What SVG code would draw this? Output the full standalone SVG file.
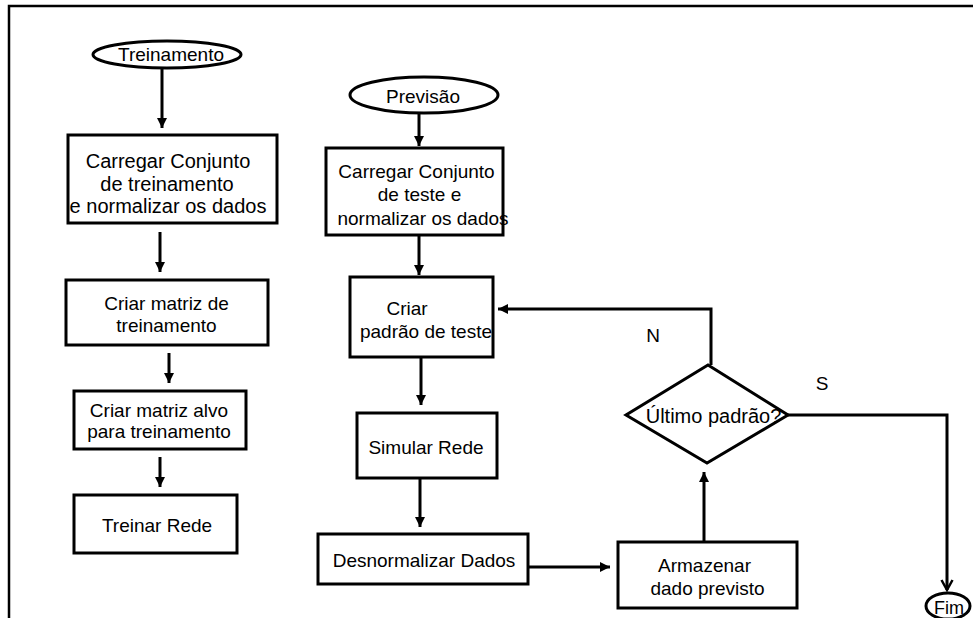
<svg xmlns="http://www.w3.org/2000/svg" width="973" height="618" viewBox="0 0 973 618">
<style>
.shape{fill:#fff;stroke:#000;stroke-width:3}
.conn{fill:none;stroke:#000;stroke-width:3}
.frame{fill:none;stroke:#000;stroke-width:2.5}
text{font-family:"Liberation Sans",Arial,sans-serif;font-size:19px;fill:#000;text-anchor:middle}
.big{font-size:20px}
</style>
<defs>
<marker id="ah" markerUnits="userSpaceOnUse" markerWidth="11" markerHeight="11" refX="10" refY="5" orient="auto">
<path d="M0,0 L10,5 L0,10 Z" fill="#000"/>
</marker>
<marker id="av" markerUnits="userSpaceOnUse" markerWidth="14" markerHeight="14" refX="11" refY="6.5" orient="auto">
<path d="M1,1 L11,6.5 L1,12" fill="none" stroke="#000" stroke-width="2.5"/>
</marker>
</defs>
<rect width="973" height="618" fill="#fff"/>
<path class="frame" d="M9,618 V6 H973"/>

<g id="connectors">
<line class="conn" x1="162" y1="68" x2="162" y2="128" marker-end="url(#ah)"/>
<line class="conn" x1="160" y1="232" x2="160" y2="272" marker-end="url(#ah)"/>
<line class="conn" x1="169" y1="353" x2="169" y2="383" marker-end="url(#ah)"/>
<line class="conn" x1="160" y1="457" x2="160" y2="487" marker-end="url(#ah)"/>
<line class="conn" x1="419" y1="113" x2="419" y2="146" marker-end="url(#ah)"/>
<line class="conn" x1="419" y1="235" x2="419" y2="275" marker-end="url(#ah)"/>
<line class="conn" x1="421" y1="357" x2="421" y2="405" marker-end="url(#ah)"/>
<line class="conn" x1="420" y1="478" x2="420" y2="527" marker-end="url(#ah)"/>
<line class="conn" x1="528" y1="567" x2="610" y2="567" marker-end="url(#ah)"/>
<line class="conn" x1="704" y1="542" x2="704" y2="472" marker-end="url(#ah)"/>
<polyline class="conn" points="711,365 711,309 498,309" marker-end="url(#ah)"/>
<polyline class="conn" points="788,415 947,415 947,590" marker-end="url(#av)"/>
<text x="653" y="342">N</text>
<text x="822" y="390">S</text>
</g>

<g id="treinamento">
<ellipse class="shape" cx="167" cy="54.5" rx="74" ry="13.5"/>
<text x="171" y="61">Treinamento</text>
</g>
<g id="carregar-treino">
<rect class="shape" x="68" y="135" width="209" height="88"/>
<text class="big" x="168" y="168">Carregar Conjunto</text>
<text class="big" x="167" y="191">de treinamento</text>
<text class="big" x="168" y="213">e normalizar os dados</text>
</g>
<g id="matriz-treino">
<rect class="shape" x="66" y="280" width="202" height="65"/>
<text x="166.5" y="310">Criar matriz de</text>
<text x="166.5" y="332">treinamento</text>
</g>
<g id="matriz-alvo">
<rect class="shape" x="74" y="391" width="172" height="58"/>
<text x="159" y="417">Criar matriz alvo</text>
<text x="159" y="438">para treinamento</text>
</g>
<g id="treinar-rede">
<rect class="shape" x="74" y="495" width="163" height="58"/>
<text x="157" y="532">Treinar Rede</text>
</g>

<g id="previsao">
<ellipse class="shape" cx="424" cy="95" rx="74" ry="18"/>
<text x="423" y="103">Previsão</text>
</g>
<g id="carregar-teste">
<rect class="shape" x="326" y="148" width="177" height="87"/>
<text x="416.5" y="178">Carregar Conjunto</text>
<text x="419.5" y="201">de teste e</text>
<text x="423" y="225">normalizar os dados</text>
</g>
<g id="criar-padrao">
<rect class="shape" x="350" y="277" width="143" height="80"/>
<text x="407" y="315">Criar</text>
<text x="426" y="338">padrão de teste</text>
</g>
<g id="simular-rede">
<rect class="shape" x="357" y="413" width="140" height="65"/>
<text x="426" y="454">Simular Rede</text>
</g>
<g id="desnormalizar">
<rect class="shape" x="318" y="534" width="210" height="50"/>
<text x="424" y="567">Desnormalizar Dados</text>
</g>
<g id="armazenar">
<rect class="shape" x="618" y="542" width="179" height="66"/>
<text x="704.5" y="572">Armazenar</text>
<text x="707.5" y="595">dado previsto</text>
</g>
<g id="ultimo-padrao">
<polygon class="shape" points="708,365 788,415 707,463 626,415"/>
<text class="big" x="713.5" y="423">Último padrão?</text>
</g>
<g id="fim">
<ellipse class="shape" cx="948" cy="606" rx="22" ry="13"/>
<text x="949" y="614" style="font-size:18px">Fim</text>
</g>
</svg>
